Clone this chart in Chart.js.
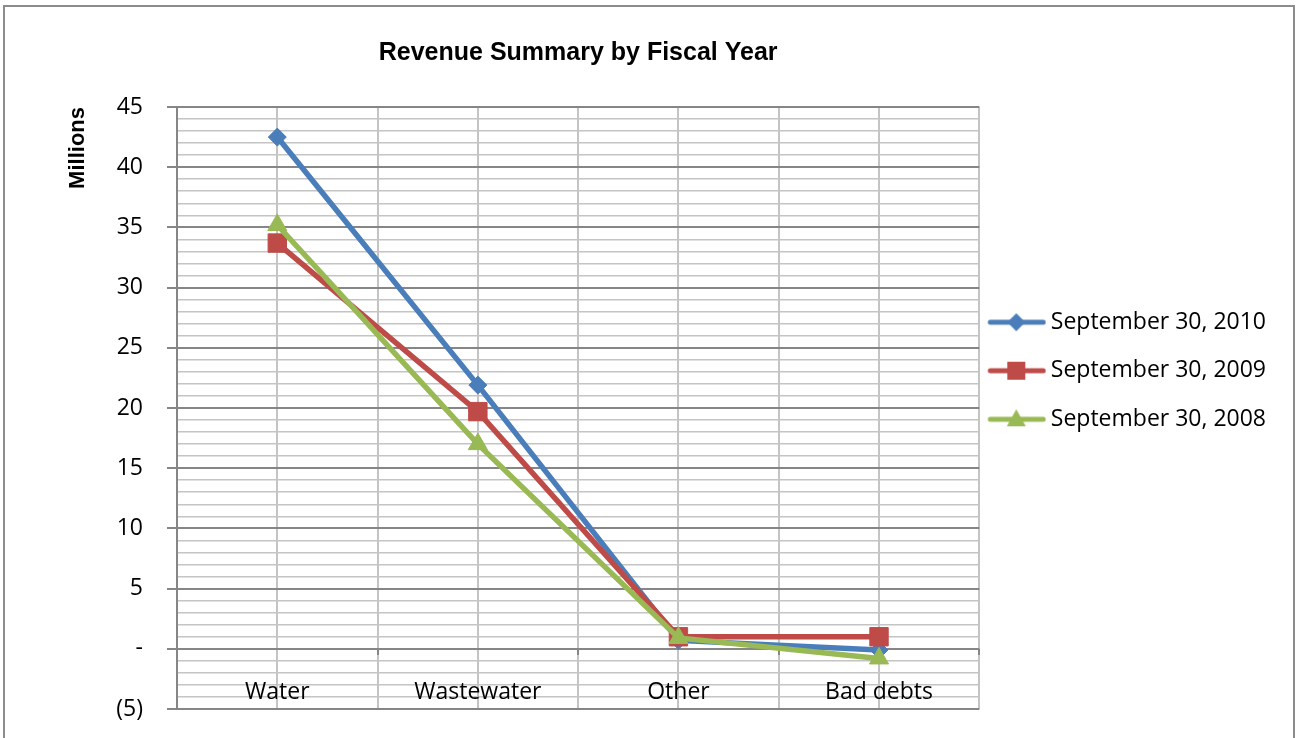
<!DOCTYPE html>
<html>
<head>
<meta charset="utf-8">
<title>Revenue Summary by Fiscal Year</title>
<script src="https://cdn.jsdelivr.net/npm/chart.js@4.4.1/dist/chart.umd.min.js"></script>
<style>
	body { margin: 0; background: #ffffff; }
	#frame {
		position: absolute;
		left: 3px;
		top: 5px;
		width: 1288px;
		height: 760px;
		border: 2px solid #8c8c8c;
	}
	#wrap {
		position: absolute;
		left: 0;
		top: 0;
		width: 1297px;
		height: 738px;
	}
</style>
</head>
<body>
<div id="frame"></div>
<div id="wrap"><canvas id="revenueChart" width="1297" height="738"></canvas></div>
<script>
var categories = ['Water', 'Wastewater', 'Other', 'Bad debts'],
	 seriesLabels = ['September 30, 2010', 'September 30, 2009', 'September 30, 2008'],
	 values2010 = [42.5, 21.9, 0.7, -0.1],
	 values2009 = [33.7, 19.7, 1.0, 1.0],
	 values2008 = [35.2, 17.0, 0.9, -0.8],
	 yTicks = { min: -5, max: 45, step: 1, major: 5 };

var seriesColors = ['#4a7ebb', '#be4b48', '#98b954'],
	 seriesMarkers = ['rectRot', 'rect', 'triangle'],
	 markerSizes = [9, 13, 11],
	 labelFont = { family: "'Open Sans', 'Liberation Sans', sans-serif", size: 23 };

Chart.defaults.font.family = labelFont.family;
Chart.defaults.color = '#000000';

// small picture of line + marker for the legend, like excel does
function legendGlyph(color, marker) {
	var c = document.createElement('canvas'),
		 g = c.getContext('2d'),
		 cy = 11,
		 cx = 34;
	c.width = 64;
	c.height = 22;
	g.strokeStyle = color;
	g.fillStyle = color;
	g.lineWidth = 5;
	g.lineCap = 'round';
	g.beginPath();
	g.moveTo(8, cy);
	g.lineTo(61, cy);
	g.stroke();
	g.beginPath();
	if (marker === 'rectRot') {
		g.moveTo(cx, cy - 9); g.lineTo(cx + 9, cy); g.lineTo(cx, cy + 9); g.lineTo(cx - 9, cy);
	} else if (marker === 'rect') {
		g.rect(cx - 9, cy - 9, 18, 18);
	} else {
		g.moveTo(cx, cy - 10); g.lineTo(cx + 9.5, cy + 7); g.lineTo(cx - 9.5, cy + 7);
	}
	g.closePath();
	g.fill();
	return c;
}

var glyphs = [
	legendGlyph(seriesColors[0], seriesMarkers[0]),
	legendGlyph(seriesColors[1], seriesMarkers[1]),
	legendGlyph(seriesColors[2], seriesMarkers[2])
];

function makeDataset(i, data) {
	return {
		label: seriesLabels[i],
		data: data,
		borderColor: seriesColors[i],
		backgroundColor: seriesColors[i],
		borderWidth: 5.5,
		pointStyle: seriesMarkers[i],
		pointRadius: markerSizes[i],
		pointHoverRadius: markerSizes[i],
		pointBorderWidth: 1,
		tension: 0,
		clip: false,
		// 2008 is drawn on top, then 2009, then 2010
		order: 2 - i
	};
}

function yLabel(v) {
	if (v % yTicks.major !== 0) return '';
	if (v === 0) return '-';
	if (v < 0) return '(' + (-v) + ')';
	return '' + v;
}

var ctx = document.getElementById('revenueChart').getContext('2d');

var revenueChart = new Chart(ctx, {
	type: 'line',
	data: {
		labels: categories,
		datasets: [
			makeDataset(0, values2010),
			makeDataset(1, values2009),
			makeDataset(2, values2008)
		]
	},
	options: {
		responsive: false,
		animation: false,
		events: [],
		layout: {
			padding: { top: 48, left: 0, right: 21, bottom: 29 }
		},
		plugins: {
			tooltip: { enabled: false },
			title: {
				display: true,
				fullSize: false,
				text: 'Revenue Summary by Fiscal Year',
				color: '#000000',
				font: { family: "'Liberation Sans', Arial, sans-serif", size: 25, weight: 'bold', lineHeight: 0.4 },
				padding: { top: 0, bottom: 49 }
			},
			legend: {
				position: 'right',
				align: 'center',
				labels: {
					usePointStyle: true,
					pointStyleWidth: 50,
					padding: 10,
					color: '#000000',
					font: { family: labelFont.family, size: labelFont.size, lineHeight: 1.674 },
					generateLabels: function(chart) {
						return seriesLabels.map(function(lbl, i) {
							return {
								text: [lbl],
								pointStyle: glyphs[i],
								fillStyle: seriesColors[i],
								strokeStyle: seriesColors[i],
								lineWidth: 0,
								hidden: false,
								datasetIndex: i
							};
						});
					}
				}
			}
		},
		scales: {
			x: {
				type: 'category',
				offset: true,
				position: { y: 0 },
				border: { display: false },
				grid: {
					offset: false,
					color: '#c4c4c4',
					lineWidth: 2,
					drawTicks: false
				},
				ticks: {
					padding: 30,
					color: '#000000',
					font: labelFont,
					maxRotation: 0,
					autoSkip: false
				}
			},
			x2: {
				type: 'category',
				labels: categories,
				offset: true,
				position: { y: 0 },
				border: { display: false },
				grid: {
					offset: true,
					color: '#c4c4c4',
					lineWidth: 2,
					drawTicks: true,
					tickLength: 6,
					tickColor: '#868686'
				},
				ticks: { display: false }
			},
			y: {
				min: yTicks.min,
				max: yTicks.max,
				border: { display: true, color: '#868686', width: 2 },
				grid: {
					lineWidth: function(c) {
						return c.tick && c.tick.value % yTicks.major === 0 ? 2 : 1.6;
					},
					color: function(c) {
						return c.tick && c.tick.value % yTicks.major === 0 ? '#868686' : '#c4c4c4';
					},
					tickColor: function(c) {
						return c.tick && c.tick.value % yTicks.major === 0 ? '#868686' : 'rgba(0,0,0,0)';
					},
					tickLength: 10
				},
				ticks: {
					stepSize: yTicks.step,
					autoSkip: false,
					padding: 24,
					color: '#000000',
					font: labelFont,
					callback: function(v) { return yLabel(v); }
				},
				title: {
					display: true,
					text: 'Millions',
					align: 'end',
					color: '#000000',
					font: { family: "'Liberation Sans', Arial, sans-serif", size: 22, weight: 'bold' },
					padding: { top: 65, bottom: 0 }
				},
				afterFit: function(scale) {
					scale.width = 177;
					// tick padding also pads the ends of the axis, undo that
					scale.paddingTop = 14;
					scale.paddingBottom = 14;
				}
			}
		}
	}
});
</script>
</body>
</html>
